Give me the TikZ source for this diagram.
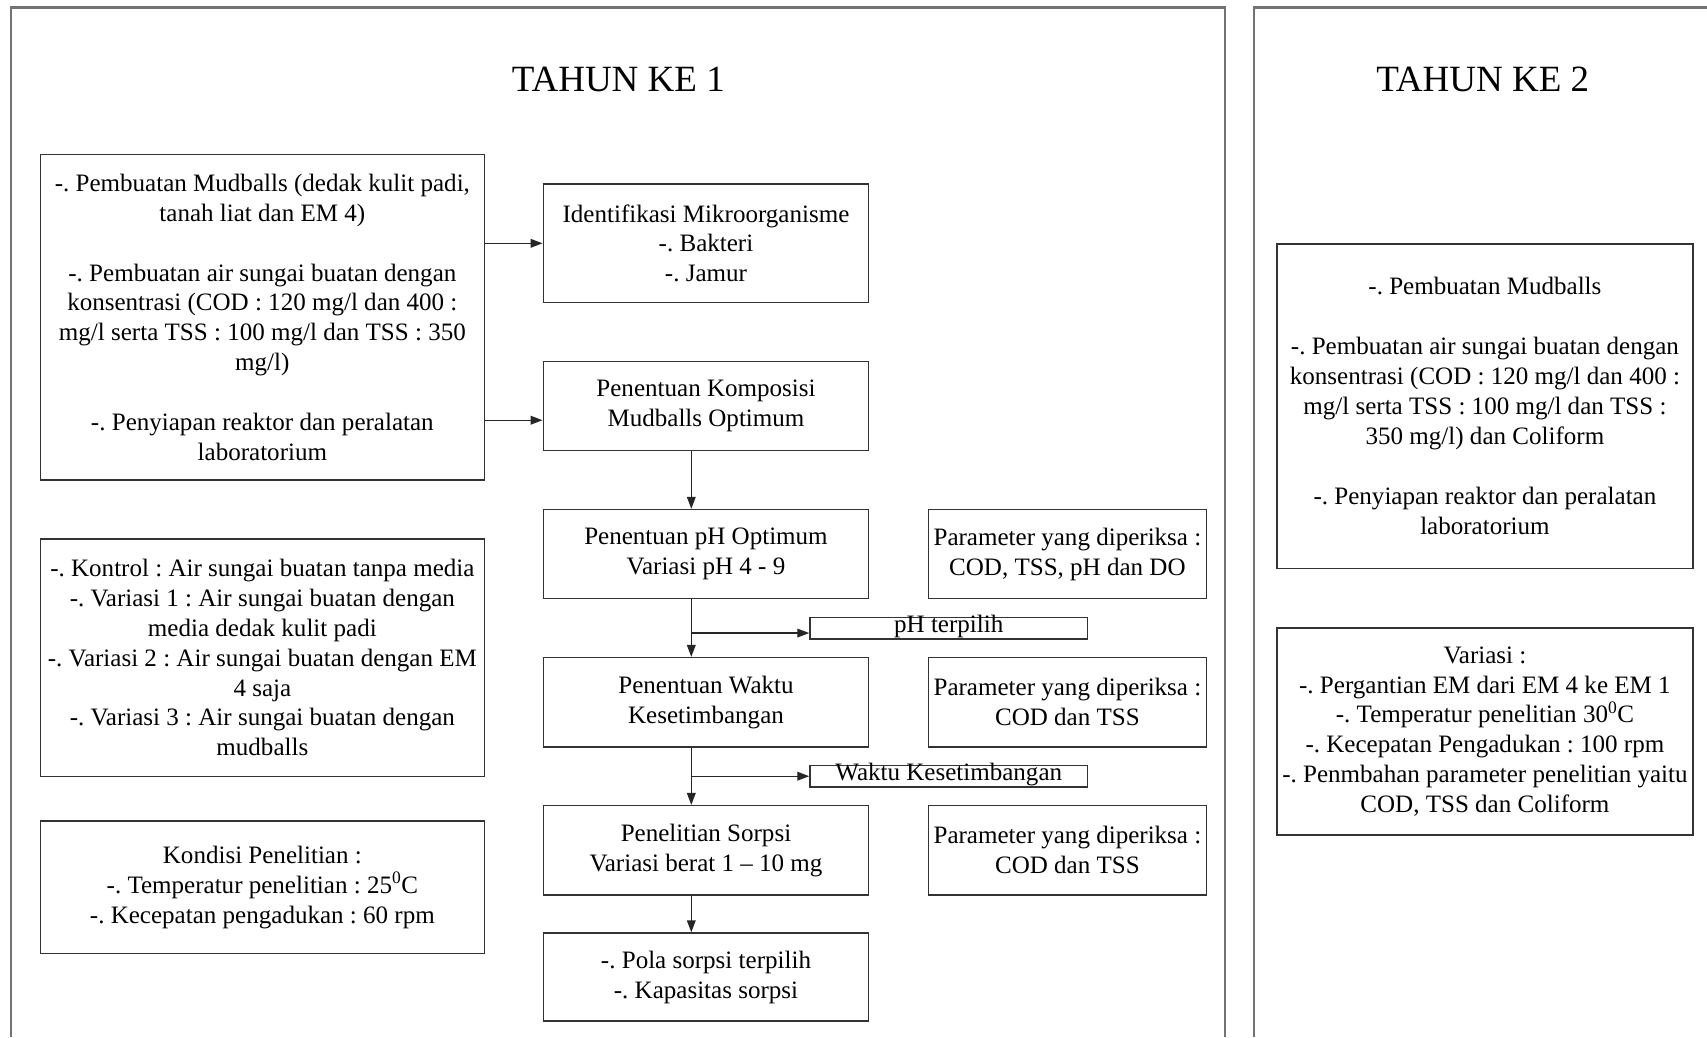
\documentclass[tikz,border=0pt]{standalone}
\usepackage{fontspec}
\setmainfont{Liberation Serif}
\usetikzlibrary{arrows.meta,calc}
\frenchspacing
\newcommand{\bodyfnt}{\fontsize{23pt}{27.5pt}\selectfont\frenchspacing}
\newcommand{\titlefnt}{\fontsize{34pt}{40pt}\selectfont}
\tikzset{
  box/.style={draw=black!80, line width=1.3pt, rectangle, align=center, inner sep=0pt, font=\bodyfnt},
  tag/.style={draw=black!80, line width=1.3pt, rectangle, align=center, inner sep=0pt, font=\bodyfnt, text height=14pt, text depth=6pt, minimum width=255pt},
  arr/.style={draw=black!85, line width=1.3pt, -{Triangle[length=11pt,width=8pt]}},
  frame/.style={draw=black!55, line width=2.2pt},
  ttl/.style={font=\titlefnt, inner sep=0pt}
}
\begin{document}
\begin{tikzpicture}[x=1pt,y=-1pt]
\useasboundingbox[fill=white] (0,0) rectangle (1568,953);
% frames
\draw[frame] (10,953) -- (10,7) -- (1125,7) -- (1125,953);
\draw[frame] (1152,953) -- (1152,7) -- (1568,7);
\node[ttl] (t1) at (568,73) {TAHUN KE 1};
\node[ttl] (t2) at (1362,73) {TAHUN KE 2};
% left column
\node[box, minimum width=408pt, minimum height=299pt] (A) at (241,291.5) {-. Pembuatan Mudballs (dedak kulit padi,\\ tanah liat dan EM 4)\\[27.5pt] -. Pembuatan air sungai buatan dengan\\ konsentrasi (COD : 120 mg/l dan 400 :\\ mg/l serta TSS : 100 mg/l dan TSS : 350\\ mg/l)\\[27.5pt] -. Penyiapan reaktor dan peralatan\\ laboratorium};
\node[box, minimum width=408pt, minimum height=218pt] (H) at (241,604) {-. Kontrol : Air sungai buatan tanpa media\\ -. Variasi 1 : Air sungai buatan dengan\\ media dedak kulit padi\\ -. Variasi 2 : Air sungai buatan dengan EM\\ 4 saja\\ -. Variasi 3 : Air sungai buatan dengan\\ mudballs};
\node[box, minimum width=408pt, minimum height=122pt] (I) at (241,815) {Kondisi Penelitian :\\ -. Temperatur penelitian : 25\textsuperscript{0}C\\ -. Kecepatan pengadukan : 60 rpm};
% middle column
\node[box, minimum width=299pt, minimum height=109pt] (B) at (648.5,223.5) {Identifikasi Mikroorganisme\\ -. Bakteri\\ -. Jamur};
\node[box, minimum width=299pt, minimum height=82pt] (C) at (648.5,373) {Penentuan Komposisi\\ Mudballs Optimum};
\node[box, minimum width=299pt, minimum height=82pt] (D) at (648.5,509) {Penentuan pH Optimum\\ Variasi pH 4 - 9};
\node[box, minimum width=299pt, minimum height=82pt] (E) at (648.5,645) {Penentuan Waktu\\ Kesetimbangan};
\node[box, minimum width=299pt, minimum height=82pt] (F) at (648.5,781) {Penelitian Sorpsi\\ Variasi berat 1 -- 10 mg};
\node[box, minimum width=299pt, minimum height=81pt] (G) at (648.5,897.5) {-. Pola sorpsi terpilih\\ -. Kapasitas sorpsi};
% parameter boxes
\node[box, minimum width=255pt, minimum height=82pt] (P1) at (980.5,509) {Parameter yang diperiksa :\\ COD, TSS, pH dan DO};
\node[box, minimum width=255pt, minimum height=82pt] (P2) at (980.5,645) {Parameter yang diperiksa :\\ COD dan TSS};
\node[box, minimum width=255pt, minimum height=82pt] (P3) at (980.5,781) {Parameter yang diperiksa :\\ COD dan TSS};
\node[tag] (ph) at (871.5,577) {pH terpilih};
\node[tag] (wk) at (871.5,713) {Waktu Kesetimbangan};
% right column
\node[box, minimum width=382pt, minimum height=298pt] (J) at (1364,373) {-. Pembuatan Mudballs\\[27.5pt] -. Pembuatan air sungai buatan dengan\\ konsentrasi (COD : 120 mg/l dan 400 :\\ mg/l serta TSS : 100 mg/l dan TSS :\\ 350 mg/l) dan Coliform\\[27.5pt] -. Penyiapan reaktor dan peralatan\\ laboratorium};
\node[box, minimum width=382pt, minimum height=190pt] (K) at (1364,672) {Variasi :\\ -. Pergantian EM dari EM 4 ke EM 1\\ -. Temperatur penelitian 30\textsuperscript{0}C\\ -. Kecepatan Pengadukan : 100 rpm\\ -. Penmbahan parameter penelitian yaitu\\ COD, TSS dan Coliform};
% connectors
\draw[arr] (A.east |- B.west) -- (B.west);
\coordinate (c2) at ($(C.west)+(0,13)$);
\draw[arr] (A.east |- c2) -- (c2);
\draw[arr] ([xshift=-13.5pt]C.south) -- ([xshift=-13.5pt]D.north);
\draw[arr] ([xshift=-13.5pt]D.south) -- ([xshift=-13.5pt]E.north);
\draw[arr] ([xshift=-13.5pt]E.south) -- ([xshift=-13.5pt]F.north);
\draw[arr] ([xshift=-13.5pt]F.south) -- ([xshift=-13.5pt]G.north);
\coordinate (d1) at ([xshift=-13.5pt]D.south);
\coordinate (e1) at ([xshift=-13.5pt]E.south);
\coordinate (pha) at ($(ph.west)+(0,4.5)$);
\draw[arr] (d1 |- pha) -- (pha);
\draw[arr] (e1 |- wk.west) -- (wk.west);
\end{tikzpicture}
\end{document}
